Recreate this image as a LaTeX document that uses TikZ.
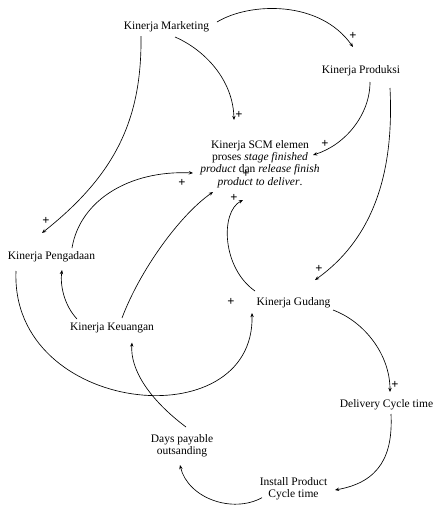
\documentclass[tikz,border=0pt]{standalone}
\usepackage{fontspec}
\setmainfont{Liberation Serif}
\usetikzlibrary{arrows.meta}
\begin{document}
\begin{tikzpicture}[x=1pt,y=-1pt,
  lbl/.style={font=\fontsize{11.5}{12.4}\selectfont, inner sep=0pt, align=center},
  pl/.style={font=\fontsize{12.5}{12.5}\selectfont\bfseries, inner sep=0pt},
  lnk/.style={line width=0.65pt, -{Stealth[length=4.2pt,width=3.4pt]}}]
\useasboundingbox (0,0) rectangle (435,507);
\node[lbl] (mk) at (166.5,27) {Kinerja Marketing};
\node[lbl] (pr) at (361,70.5) {Kinerja Produksi};
\node[lbl] (scm) at (260,164) {Kinerja SCM elemen\\proses \textit{stage finished}\\\textit{product} dan \textit{release finish}\\\textit{product to deliver}.};
\node[lbl] (pe) at (51.5,256.7) {Kinerja Pengadaan};
\node[lbl] (ke) at (112,328) {Kinerja Keuangan};
\node[lbl] (gu) at (293.5,302.7) {Kinerja Gudang};
\node[lbl] (de) at (386.5,405) {Delivery Cycle time};
\node[lbl] (da) at (182,446) {Days payable\\outsanding};
\node[lbl] (in) at (293.5,489) {Install Product\\Cycle time};
% plus signs
\node[pl] (p1) at (353,36) {+};
\node[pl] (p2) at (239,115) {+};
\node[pl] (p3) at (46,221) {+};
\node[pl] (p4) at (325,144) {+};
\node[pl] (p5) at (319,269) {+};
\node[pl] (p6) at (182,183) {+};
\node[pl] (p7) at (246,174) {+};
\node[pl] (p8) at (234,198) {+};
\node[pl] (p9) at (231,302) {+};
\node[pl] (p10) at (395,385) {+};
% connectors
\draw[lnk] ([shift={(50.5,-5)}]mk.center) .. controls (250,2) and (320,0) .. ([shift={(-8,-23.5)}]pr.center);
\draw[lnk] ([shift={(8.5,10)}]mk.center) .. controls (205,50) and (233,80) .. ([shift={(-26,-44)}]scm.center);
\draw[lnk] ([shift={(-25.5,9)}]mk.center) .. controls (142,120) and (115,175) .. ([shift={(-9.5,-23.7)}]pe.center);
\draw[lnk] ([shift={(9,11.5)}]pr.center) .. controls (370,115) and (345,145) .. ([shift={(53,-9)}]scm.center);
\draw[lnk] ([shift={(29,17.5)}]pr.center) .. controls (393,150) and (385,230) .. ([shift={(21.5,-22.7)}]gu.center);
\draw[lnk] ([shift={(20.5,-8.7)}]pe.center) .. controls (80,200) and (130,170) .. ([shift={(-67,9)}]scm.center);
\draw[lnk] ([shift={(10,-10)}]ke.center) .. controls (140,270) and (180,215) .. ([shift={(-47,28)}]scm.center);
\draw[lnk] ([shift={(-38.5,-11.7)}]gu.center) .. controls (222,268) and (220,212) .. ([shift={(-17,36)}]scm.center);
\draw[lnk] ([shift={(-35,-9)}]ke.center) .. controls (64,305) and (60,285) .. ([shift={(10.5,13.3)}]pe.center);
\draw[lnk] ([shift={(-35.5,14.3)}]pe.center) .. controls (10,415) and (255,440) .. ([shift={(-41.5,10.3)}]gu.center);
\draw[lnk] ([shift={(39.5,7.3)}]gu.center) .. controls (365,322) and (390,355) .. ([shift={(3.5,-13)}]de.center);
\draw[lnk] ([shift={(4.5,9)}]de.center) .. controls (393,455) and (380,482) .. ([shift={(41.5,1)}]in.center);
\draw[lnk] ([shift={(-31.5,8.7)}]in.center) .. controls (232,514) and (188,498) .. ([shift={(-2,19)}]da.center);
\draw[lnk] ([shift={(4,-19)}]da.center) .. controls (150,400) and (130,370) .. ([shift={(20,14.5)}]ke.center);
\end{tikzpicture}
\end{document}
